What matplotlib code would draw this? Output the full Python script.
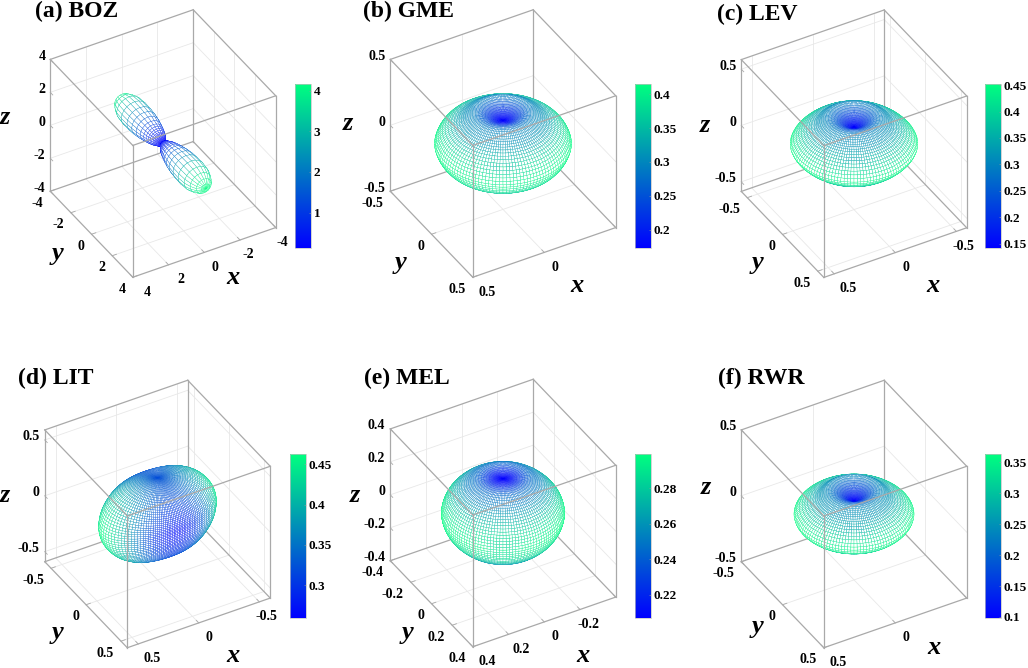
import numpy as np
import matplotlib
matplotlib.use('Agg')
import matplotlib.pyplot as plt
from matplotlib.cm import ScalarMappable
from matplotlib.colors import Normalize
from mpl_toolkits.mplot3d import proj3d

plt.rcParams['font.family'] = ['Liberation Serif', 'DejaVu Serif']
plt.rcParams['font.weight'] = 'bold'

# radius every 3 degrees, from the pole (0) to the equator (90)
boz_r = [4.16, 4.12, 3.98, 3.70, 3.35, 2.85, 2.35, 1.95, 1.60, 1.30, 1.08, 0.92, 0.78, 0.67, 0.57, 0.49,
         0.43, 0.38, 0.34, 0.30, 0.27, 0.24, 0.22, 0.20, 0.18, 0.165, 0.15, 0.14, 0.135, 0.13, 0.13]
gme_r = [.173, .174, .177, .181, .187, .194, .203, .214, .227, .241, .256, .270, .283, .293, .298, .301,
         .304, .307, .311, .317, .323, .333, .345, .357, .369, .380, .390, .398, .405, .411, .415]
lev_r = [.142, .143, .146, .151, .158, .167, .178, .191, .206, .222, .239, .256, .273, .289, .300, .306,
         .310, .312, .316, .320, .326, .337, .349, .361, .373, .386, .400, .415, .430, .443, .452]
# LIT is not round: one profile towards x, one towards y
lit_rx = [.320, .322, .326, .331, .336, .342, .347, .353, .359, .365, .371, .377, .383, .389, .395, .401,
          .407, .413, .419, .424, .429, .434, .439, .444, .448, .452, .455, .458, .460, .462, .463]
lit_ry = [.320, .322, .324, .326, .327, .328, .328, .328, .327, .326, .324, .322, .319, .316, .313, .310,
          .306, .302, .298, .295, .291, .287, .283, .280, .277, .274, .271, .268, .265, .263, .262]
mel_r = [.207, .207, .208, .210, .212, .215, .219, .224, .229, .234, .239, .243, .246, .248, .249, .251,
         .254, .258, .262, .265, .269, .273, .277, .281, .285, .288, .291, .294, .296, .298, .299]
rwr_r = [.098, .099, .101, .105, .110, .117, .125, .135, .147, .160, .174, .189, .204, .218, .230, .239,
         .245, .247, .249, .252, .256, .262, .272, .284, .296, .308, .321, .335, .348, .358, .3635]

# tick labels of the axes
boz_xt = ['-4', '-2', '0', '2', '4']
boz_yt = ['-4', '-2', '0', '2', '4']
boz_zt = ['-4', '-2', '0', '2', '4']
half_xt = ['0', '0.5']
half_yt = ['-0.5', '0', '0.5']
half_zt = ['-0.5', '0', '0.5']
wide_xt = ['-0.5', '0', '0.5']
mel_xt = ['-0.2', '0', '0.2', '0.4']
mel_yt = ['-0.4', '-0.2', '0', '0.2', '0.4']
mel_zt = ['-0.4', '-0.2', '0', '0.2', '0.4']

# colour bars
boz_bar = ['1', '2', '3', '4']
gme_bar = ['0.2', '0.25', '0.3', '0.35', '0.4']
lev_bar = ['0.15', '0.2', '0.25', '0.3', '0.35', '0.4', '0.45']
lit_bar = ['0.3', '0.35', '0.4', '0.45']
mel_bar = ['0.22', '0.24', '0.26', '0.28']
rwr_bar = ['0.1', '0.15', '0.2', '0.25', '0.3', '0.35']

W, H = 1028, 668
AX = 300  # size of the square 3d axes, px
BOX_COLOR = '#a9a9a9'
GRID_COLOR = '#e8e8e8'


def px(x, y):
    return x / W, 1 - y / H


def mesh(rx, ry):
    """Sphere mesh, pole on z, radius rx towards x and ry towards y"""
    theta = np.radians(np.arange(0, 181, 3))
    phi = np.radians(np.arange(0, 361, 3))
    rx = np.r_[rx, rx[-2::-1]]
    ry = np.r_[ry, ry[-2::-1]]
    r = 1 / np.sqrt(np.outer(1 / rx ** 2, np.cos(phi) ** 2) + np.outer(1 / ry ** 2, np.sin(phi) ** 2))
    x = r * np.outer(np.sin(theta), np.cos(phi))
    y = r * np.outer(np.sin(theta), np.sin(phi))
    z = r * np.cos(theta)[:, None]
    return x, y, z, r


def mesh_along_y(prof):
    """Body of revolution round the y axis"""
    alpha = np.radians(np.arange(0, 181, 3))
    phi = np.radians(np.arange(0, 361, 18))
    prof = np.r_[prof, prof[-2::-1]]
    r = np.outer(prof, np.ones(len(phi)))
    y = r * np.cos(alpha)[:, None]
    x = r * np.outer(np.sin(alpha), np.cos(phi))
    z = r * np.outer(np.sin(alpha), np.sin(phi))
    return x, y, z, r


def draw_box(ax, lim, ticks, mark_ticks):
    low, high = -lim, lim
    for t in ticks:
        a, b = [t, t], [low, high]
        ax.plot(a, b, [low, low], color=GRID_COLOR, lw=.6, zorder=1)  # floor
        ax.plot(b, a, [low, low], color=GRID_COLOR, lw=.6, zorder=1)
        ax.plot(a, [low, low], b, color=GRID_COLOR, lw=.6, zorder=1)  # wall y=low
        ax.plot(b, [low, low], a, color=GRID_COLOR, lw=.6, zorder=1)
        ax.plot([low, low], a, b, color=GRID_COLOR, lw=.6, zorder=1)  # wall x=low
        ax.plot([low, low], b, a, color=GRID_COLOR, lw=.6, zorder=1)
    back = [([low, low], [low, low], [low, high]), ([low, high], [low, low], [low, low]),
            ([low, low], [low, high], [low, low]), ([high, high], [low, low], [low, high]),
            ([low, low], [high, high], [low, high]), ([low, high], [low, low], [high, high]),
            ([low, low], [low, high], [high, high]), ([high, high], [low, high], [low, low]),
            ([low, high], [high, high], [low, low])]
    for xs, ys, zs in back:
        ax.plot(xs, ys, zs, color=BOX_COLOR, lw=.9, zorder=1.5)
    front = [([high, high], [high, high], [low, high]), ([low, high], [high, high], [high, high]),
             ([high, high], [low, high], [high, high])]
    for xs, ys, zs in front:
        ax.plot(xs, ys, zs, color=BOX_COLOR, lw=.9, zorder=3)
    # short tick marks on the three labelled edges
    step = .03 * (high - low)
    for t in mark_ticks:
        ax.plot([t, t], [high, high - step], [low, low], color=BOX_COLOR, lw=.6, zorder=1.5)
        ax.plot([high, high - step], [t, t], [low, low], color=BOX_COLOR, lw=.6, zorder=1.5)
        ax.plot([high, high], [low, low + step], [t, t], color=BOX_COLOR, lw=.6, zorder=1.5)


def tick_label(ax, x, y, z, text, dx, dy, ha):
    x2, y2, _ = proj3d.proj_transform(x, y, z, ax.get_proj())
    ax.annotate(text, xy=(x2, y2), xycoords='data', xytext=(dx, dy), textcoords='offset pixels',
                ha=ha, va='center', fontsize=10, annotation_clip=False, zorder=5)


def panel(title, title_xy, shape, lim, xt, yt, zt, center, vmin, vmax, bar_labels, bar_xy,
          x_xy, y_xy, z_xy, grid_ticks):
    fig.text(*px(*title_xy), title, fontsize=17, va='center', ha='left')
    fig.text(*px(*x_xy), 'x', fontsize=19, style='italic', ha='center', va='center')
    fig.text(*px(*y_xy), 'y', fontsize=19, style='italic', ha='center', va='center')
    fig.text(*px(*z_xy), 'z', fontsize=19, style='italic', ha='center', va='center')

    left = center[0] - .5135 * AX
    bottom = H - center[1] - .5135 * AX
    ax = fig.add_axes([left / W, bottom / H, AX / W, AX / H], projection='3d')
    ax.set_proj_type('ortho')
    ax.view_init(elev=37, azim=60)
    ax.set_box_aspect((1, 1, 1), zoom=.925)
    ax.set_xlim(-lim, lim)
    ax.set_ylim(-lim, lim)
    ax.set_zlim(-lim, lim)
    ax.set_axis_off()
    ax.set_facecolor('none')
    ax.computed_zorder = False

    draw_box(ax, lim, grid_ticks, [float(t) for t in zt])

    x, y, z, r = shape
    norm = Normalize(vmin, vmax)
    face_r = (r[:-1, :-1] + r[1:, :-1] + r[:-1, 1:] + r[1:, 1:]) / 4
    colors = plt.get_cmap('winter')(norm(face_r)).reshape(-1, 4)
    surf = ax.plot_surface(x, y, z, rstride=1, cstride=1, color='white', shade=False, lw=.22,
                           antialiased=True, zorder=2)
    surf.set_edgecolor(colors)
    surf.set_snap(False)

    for t in xt:
        frac = (float(t) + lim) / (2 * lim)
        tick_label(ax, float(t), lim, -lim, t, 7 + 7 * frac, -15, 'center')
    for t in yt:
        tick_label(ax, lim, float(t), -lim, t, -7, -12, 'right')
    for t in zt:
        tick_label(ax, lim, -lim, float(t), t, -5, 3, 'right')

    cax = fig.add_axes([bar_xy[0] / W, (H - bar_xy[1] - 164) / H, 16 / W, 164 / H])
    cb = fig.colorbar(ScalarMappable(norm, 'winter'), cax=cax)
    cb.set_ticks([float(t) for t in bar_labels], labels=bar_labels)
    cb.ax.tick_params(length=1.5, width=.4, direction='in', color='#999999', pad=2, labelsize=9.5)
    cb.outline.set_edgecolor('#c0c0c0')
    cb.outline.set_linewidth(.5)


fig = plt.figure(figsize=(W / 100, H / 100), dpi=100)

panel('(a) BOZ', (35, 11), mesh_along_y(boz_r), 4, boz_xt, boz_yt, boz_zt, (163, 143.5), .13, 4.16, boz_bar,
      (295, 84), (233, 277), (58, 254), (5, 117), [-2, 0, 2])
panel('(b) GME', (363, 11), mesh(gme_r, gme_r), .5, half_xt, half_yt, half_zt, (503, 143.5), .173, .415, gme_bar,
      (635, 84), (577, 285), (401, 262), (348, 124), [0])
panel('(c) LEV', (717, 14), mesh(lev_r, lev_r), .585, wide_xt, half_yt, half_zt, (854, 143.7), .142, .452, lev_bar,
      (985, 84), (933, 285), (758, 262), (705, 125), [-.5, 0, .5])
panel('(d) LIT', (18, 378), mesh(lit_rx, lit_ry), .59, wide_xt, half_yt, half_zt, (157.5, 514), .259, .463, lit_bar,
      (290, 454), (233, 655), (58, 632), (5, 495), [-.5, 0, .5])
panel('(e) MEL', (364, 378), mesh(mel_r, mel_r), .4, mel_xt, mel_yt, mel_zt, (503, 513), .2068, .2992, mel_bar,
      (635, 454), (583, 655), (408, 633), (355, 495), [-.2, 0, .2])
panel('(f) RWR', (718, 378), mesh(rwr_r, rwr_r), .5, half_xt, half_yt, half_zt, (854, 514), .0983, .3635, rwr_bar,
      (985, 454), (934, 648), (758, 627), (706, 488), [0])

fig.savefig('out.png', dpi=100)
